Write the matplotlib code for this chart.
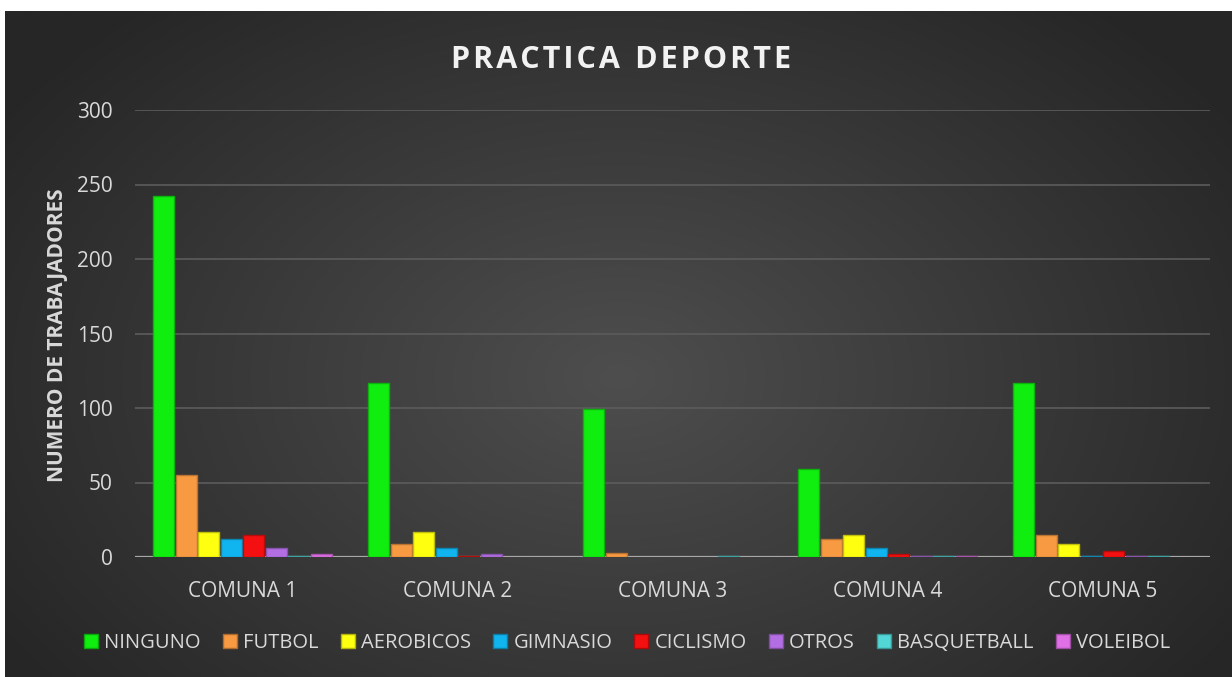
import matplotlib
matplotlib.use("Agg")
import matplotlib.pyplot as plt
import numpy as np
from matplotlib.patches import Patch
import matplotlib.colors as mcolors

categories = ["COMUNA 1", "COMUNA 2", "COMUNA 3", "COMUNA 4", "COMUNA 5"]
series_names = ["NINGUNO", "FUTBOL", "AEROBICOS", "GIMNASIO", "CICLISMO",
                "OTROS", "BASQUETBALL", "VOLEIBOL"]
ninguno = [242, 117, 99, 59, 117]
futbol = [55, 9, 3, 12, 15]
aerobicos = [17, 17, 0, 15, 9]
gimnasio = [12, 6, 0, 6, 1]
ciclismo = [15, 1, 0, 2, 4]
otros = [6, 2, 0, 1, 1]
basquetball = [1, 0, 1, 1, 1]
voleibol = [2, 0, 0, 1, 0]
series_values = [ninguno, futbol, aerobicos, gimnasio, ciclismo, otros,
                 basquetball, voleibol]
colors = ["#10ee10", "#f79a42", "#ffff10", "#10b4ee", "#f41010",
          "#b46ee4", "#52d6d6", "#e070e6"]
yticks = [0, 50, 100, 150, 200, 250, 300]

W, H = 1232, 677
fig = plt.figure(figsize=(W / 100, H / 100), dpi=100)
fig.patch.set_facecolor("white")

# dark background with radial gradient
bg = fig.add_axes([5 / W, 0, (W - 5) / W, (H - 11) / H])
yy, xx = np.mgrid[0:1:300j, 0:1:600j]
r = np.sqrt(((xx - 0.5) / 0.6) ** 2 + ((yy - 0.45) / 0.75) ** 2)
r = np.clip(r, 0, 1)
c_in = np.array(mcolors.to_rgb("#4e4e4e"))
c_out = np.array(mcolors.to_rgb("#262626"))
img = c_in[None, None, :] * (1 - r[..., None]) + c_out[None, None, :] * r[..., None]
bg.imshow(img, aspect="auto", extent=[0, 1, 0, 1], origin="lower")
bg.set_axis_off()

ax = fig.add_axes([135 / W, (H - 557) / H, (1210 - 135) / W, (557 - 110) / H])
ax.set_facecolor("none")
n = len(series_names)
x = np.arange(len(categories))
step = 0.105
bw = 0.098
for i, (name, vals, col) in enumerate(zip(series_names, series_values, colors)):
    offs = (i - (n - 1) / 2) * step
    edge = np.array(mcolors.to_rgb(col)) * 0.75
    lws = [1.0 if v > 0 else 0.0 for v in vals]
    ax.bar(x + offs, vals, width=bw, color=col, edgecolor=edge, linewidth=lws,
           zorder=3, label=name)

ax.set_xlim(-0.5, len(categories) - 0.5)
ax.set_ylim(0, 300)
ax.set_yticks(yticks)
ax.set_xticks(x)
ax.set_xticklabels(categories)
ax.grid(axis="y", color="#5c5c5c", linewidth=1.2, zorder=0)
ax.axhline(0, color="#a8a8a8", linewidth=1.6, zorder=2)
for s in ax.spines.values():
    s.set_visible(False)
ax.tick_params(axis="both", length=0, colors="#d9d9d9")
ax.tick_params(axis="x", labelsize=15, pad=17)
ax.tick_params(axis="y", labelsize=15, pad=16)
for lbl in ax.get_xticklabels() + ax.get_yticklabels():
    lbl.set_fontfamily("Open Sans")

fig.text(57 / W, (H - 335) / H, "NUMERO DE TRABAJADORES", rotation=90,
         ha="center", va="center", color="#d9d9d9", fontsize=15,
         fontweight="bold", family="Open Sans")
title = "\u200a".join("PRACTICA") + "\u2002" + "\u200a".join("DEPORTE")
fig.text(621 / W, (H - 60) / H, title,
         ha="center", va="center", color="#f2f2f2", fontsize=22,
         fontweight="bold", family=["Open Sans", "DejaVu Sans"])

handles = [Patch(facecolor=c, edgecolor=np.array(mcolors.to_rgb(c)) * 0.7, label=nm)
           for nm, c in zip(series_names, colors)]
leg = fig.legend(handles=handles, loc="center", bbox_to_anchor=(627 / W, (H - 643) / H),
                 ncol=8, frameon=False, handlelength=0.7, handleheight=0.7,
                 handletextpad=0.3, columnspacing=1.1,
                 prop={"family": "Open Sans", "size": 14.5})
for t in leg.get_texts():
    t.set_color("#d9d9d9")

fig.savefig("out.png", dpi=100, facecolor=fig.get_facecolor())
